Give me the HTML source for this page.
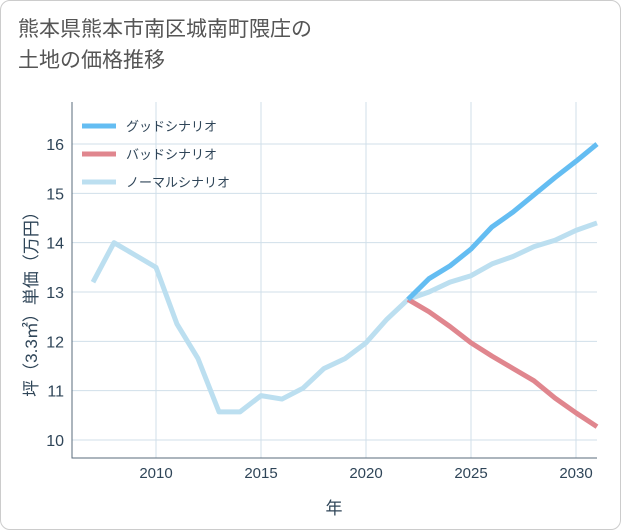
<!DOCTYPE html>
<html><head><meta charset="utf-8"><style>
body{margin:0;background:#fff;}
#wrap{position:relative;width:621px;height:530px;font-family:"Liberation Sans","Noto Sans CJK JP",sans-serif;}
#card{position:absolute;left:0;top:0;width:619px;height:528px;border:1px solid #ccc;border-radius:10px;background:#fff;}
h1{position:absolute;left:18px;top:14px;margin:0;font-weight:normal;font-size:21px;line-height:31px;color:#555;}
svg{position:absolute;left:0;top:0;}
</style></head><body>
<div id="wrap">
<div id="card"></div>
<h1>熊本県熊本市南区城南町隈庄の<br>土地の価格推移</h1>
<svg id="chart" width="621" height="530"></svg>
</div>
<script>
const normalYears=[2007,2008,2009,2010,2011,2012,2013,2014,2015,2016,2017,2018,2019,2020,2021,2022,2023,2024,2025,2026,2027,2028,2029,2030,2031];
const normalValues=[13.2,14.0,13.75,13.5,12.35,11.65,10.57,10.57,10.9,10.83,11.05,11.45,11.65,11.97,12.45,12.85,13.0,13.2,13.33,13.57,13.72,13.92,14.05,14.25,14.4];
const futureYears=[2022,2023,2024,2025,2026,2027,2028,2029,2030,2031];
const goodValues=[12.85,13.27,13.53,13.87,14.32,14.62,14.97,15.32,15.65,16.0];
const badValues=[12.85,12.6,12.3,11.97,11.7,11.45,11.2,10.85,10.55,10.27];
const xTicks=[2010,2015,2020,2025,2030];
const yTicks=[10,11,12,13,14,15,16];
const legendLabels=["グッドシナリオ","バッドシナリオ","ノーマルシナリオ"];
const legendColors=["#64bdf2","#e0868e","#bcdff0"];

const L=72,R=597,T=102,B=458;
const x=v=>156+(v-2010)*21;
const y=v=>440-(v-10)*49.33;
const svg=document.getElementById('chart');
const NS='http://www.w3.org/2000/svg';
function mk(t,a){const e=document.createElementNS(NS,t);for(const k in a)e.setAttribute(k,a[k]);svg.appendChild(e);return e;}

for(const t of xTicks){
 const g=mk('line',{x1:x(t),x2:x(t),y1:T,y2:B,stroke:'#d0dfea','stroke-width':1});
 
 
 const tx=mk('text',{x:x(t),y:B+20,'text-anchor':'middle','font-size':15,fill:'#2f4558'});
 tx.textContent=t;
 
 
}
for(const t of yTicks){
 const g=mk('line',{x1:L,x2:R,y1:y(t),y2:y(t),stroke:'#d0dfea','stroke-width':1});
 
 
 const tx=mk('text',{x:L-8,y:y(t)+6,'text-anchor':'end','font-size':16,fill:'#2f4558'});
 tx.textContent=t;
 
 
}
const ax=mk('path',{d:`M${L} ${T}V${B}H${R}`,fill:'none',stroke:'#5a6b7b','stroke-width':1});



function line(xs,vs,c,name){
 const p=mk('polyline',{points:xs.map((v,i)=>x(v)+','+y(vs[i])).join(' '),fill:'none',stroke:c,'stroke-width':5,'stroke-linejoin':'round'});
 
 
}
line(normalYears,normalValues,legendColors[2],'normal-scenario-line');
line(futureYears,badValues,legendColors[1],'bad-scenario-line');
line(futureYears,goodValues,legendColors[0],'good-scenario-line');

legendLabels.forEach((lab,i)=>{
 const ly=126+i*28;
 const s=mk('line',{x1:82,x2:116,y1:ly,y2:ly,stroke:legendColors[i],'stroke-width':5});
 
 
 const t=mk('text',{x:126,y:ly+5,'font-size':13,fill:'#2f4558'});
 t.textContent=lab;
 
 
});

const xt=mk('text',{x:334,y:514,'text-anchor':'middle','font-size':17,fill:'#2f4558'});
xt.textContent='年';


const yt=mk('text',{x:0,y:0,'text-anchor':'middle','font-size':17,fill:'#2f4558',transform:'translate(37,300) rotate(-90)'});
yt.textContent='坪（3.3㎡）単価（万円）';


</script>
</body></html>
